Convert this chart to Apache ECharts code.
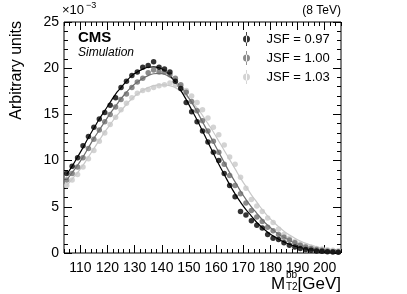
<!DOCTYPE html>
<html><head><meta charset="utf-8">
<script src="https://cdn.jsdelivr.net/npm/echarts@6/dist/echarts.min.js"></script>
<style>html,body{margin:0;padding:0;background:#fff}#c{width:407px;height:294px}</style>
</head><body><div id="c"></div>
<script>
const xValues = [105,107,109,111,113,115,117,119,121,123,125,127,129,131,133,135,137,139,141,143,145,147,149,151,153,155,157,159,161,163,165,167,169,171,173,175,177,179,181,183,185,187,189,191,193,195,197,199,201,203,205];
const jsf097 = [8.6,9.4,10.3,11.6,12.6,13.6,14.5,15.2,16.0,16.8,17.9,18.6,19.2,19.6,20.1,20.3,20.7,20.1,19.9,19.6,18.6,17.8,16.3,15.3,14.2,13.2,12.0,10.9,10.0,8.6,7.3,6.1,4.5,4.1,3.5,3.0,2.7,2.0,1.6,1.45,1.1,0.85,0.65,0.5,0.38,0.3,0.22,0.18,0.13,0.1,0.08];
const jsf100 = [7.9,8.6,9.3,10.3,11.3,12.3,13.3,14.2,15.0,15.8,16.6,17.2,17.9,18.5,18.9,19.5,19.8,19.6,19.6,19.3,18.9,18.2,17.4,16.4,15.4,14.3,13.2,12.1,10.9,9.6,8.4,7.3,6.4,5.4,4.6,3.9,3.4,2.8,2.4,2.0,1.7,1.4,1.1,0.85,0.65,0.5,0.38,0.3,0.22,0.17,0.13];
const jsf103 = [7.3,7.9,8.5,9.3,10.2,11.1,12.1,13.0,13.9,14.7,15.5,16.2,16.8,17.3,17.6,17.7,17.9,18.1,18.2,18.4,18.2,18.0,17.6,17.0,16.3,15.5,14.6,13.6,12.8,11.7,10.4,9.6,8.2,7.0,5.8,5.1,4.5,3.8,3.3,2.6,2.0,1.6,1.25,1.0,0.8,0.62,0.5,0.42,0.35,0.3,0.25];
const fit097 = [8.5,9.4,10.4,11.4,12.5,13.5,14.5,15.4,16.3,17.2,17.9,18.6,19.2,19.6,19.9,20.1,20.15,20.05,19.75,19.2,18.5,17.6,16.6,15.5,14.4,13.2,12.0,10.8,9.6,8.5,7.4,6.4,5.5,4.7,4.0,3.3,2.75,2.25,1.85,1.5,1.2,0.95,0.75,0.6,0.47,0.37,0.29,0.22,0.17,0.13,0.1];
const fit100 = [7.9,8.7,9.5,10.4,11.4,12.4,13.3,14.2,15.1,15.9,16.7,17.4,18.0,18.5,18.9,19.2,19.4,19.45,19.35,19.05,18.6,18.0,17.2,16.3,15.3,14.2,13.1,12.0,10.9,9.8,8.7,7.7,6.7,5.8,5.0,4.3,3.6,3.0,2.5,2.05,1.7,1.38,1.1,0.88,0.7,0.55,0.43,0.34,0.27,0.21,0.17];
const fit103 = [7.3,8.0,8.7,9.5,10.4,11.3,12.2,13.1,13.9,14.7,15.4,16.1,16.7,17.2,17.6,17.9,18.1,18.2,18.2,18.1,17.9,17.5,17.0,16.4,15.7,14.9,14.0,13.1,12.1,11.1,10.1,9.1,8.1,7.2,6.3,5.5,4.7,4.0,3.4,2.85,2.35,1.95,1.6,1.3,1.05,0.85,0.68,0.55,0.44,0.35,0.28];
const xMajorTicks = [110,120,130,140,150,160,170,180,190,200];
const xMinorTicks = [104,106,108,112,114,116,118,122,124,126,128,132,134,136,138,142,144,146,148,152,154,156,158,162,164,166,168,172,174,176,178,182,184,186,188,192,194,196,198,202,204,206];
const seriesNames = ['JSF = 0.97','JSF = 1.00','JSF = 1.03'];
const colors = ['#000000','#6e6e6e','#c8c8c8'];

const FONT = 'Liberation Sans, Arial, Helvetica, sans-serif';
const pairs = a => xValues.map((x,i)=>[x,a[i]]);
const chart = echarts.init(document.getElementById('c'));
const baseX = {type:'value', min:104, max:206, splitLine:{show:false}, axisLine:{show:false}};
const icon = 'path://M2,7a3,3 0 1,0 6,0a3,3 0 1,0 -6,0z M4.6,1h0.8v12h-0.8z';
chart.setOption({
  animation:false,
  grid:{left:64, right:66, top:22, bottom:41, show:true, borderColor:'#000', borderWidth:1, backgroundColor:'transparent'},
  xAxis:[
    Object.assign({}, baseX, {position:'bottom', axisTick:{inside:true, length:8, customValues:xMajorTicks, lineStyle:{color:'#000'}}, axisLabel:{customValues:xMajorTicks, fontFamily:FONT, fontSize:14, color:'#000', margin:8}}),
    Object.assign({}, baseX, {position:'bottom', axisTick:{inside:true, length:4, customValues:xMinorTicks, lineStyle:{color:'#000'}}, axisLabel:{show:false}}),
    Object.assign({}, baseX, {position:'top', axisTick:{inside:true, length:8, customValues:xMajorTicks, lineStyle:{color:'#000'}}, axisLabel:{show:false}}),
    Object.assign({}, baseX, {position:'top', axisTick:{inside:true, length:4, customValues:xMinorTicks, lineStyle:{color:'#000'}}, axisLabel:{show:false}})
  ],
  yAxis:[
    {type:'value', min:0, max:25, interval:5, position:'left', splitLine:{show:false}, axisLine:{show:false},
     axisTick:{inside:true, length:8, lineStyle:{color:'#000'}}, minorTick:{show:true, splitNumber:5, length:4, lineStyle:{color:'#000'}},
     axisLabel:{fontFamily:FONT, fontSize:14, color:'#000', margin:5}},
    {type:'value', min:0, max:25, interval:5, position:'right', splitLine:{show:false}, axisLine:{show:false},
     axisTick:{inside:true, length:8, lineStyle:{color:'#000'}}, minorTick:{show:true, splitNumber:5, length:4, lineStyle:{color:'#000'}},
     axisLabel:{show:false}}
  ],
  legend:{orient:'vertical', left:238, top:27, itemWidth:10, itemHeight:14, itemGap:5, icon:icon,
    data:seriesNames, textStyle:{fontFamily:FONT, fontSize:13, color:'#000', padding:[0,0,0,10]}},
  series:[
    {type:'line', name:'fit103', data:pairs(fit103), smooth:true, showSymbol:false, lineStyle:{color:colors[2], width:1.2}, z:2},
    {type:'line', name:'fit100', data:pairs(fit100), smooth:true, showSymbol:false, lineStyle:{color:colors[1], width:1.2}, z:2},
    {type:'line', name:'fit097', data:pairs(fit097), smooth:true, showSymbol:false, lineStyle:{color:colors[0], width:1.2}, z:2},
    {type:'scatter', name:seriesNames[2], data:pairs(jsf103), symbol:'circle', symbolSize:5.5, itemStyle:{color:colors[2]}, z:3},
    {type:'scatter', name:seriesNames[1], data:pairs(jsf100), symbol:'circle', symbolSize:5.5, itemStyle:{color:colors[1]}, z:4},
    {type:'scatter', name:seriesNames[0], data:pairs(jsf097), symbol:'circle', symbolSize:5.5, itemStyle:{color:colors[0]}, z:5}
  ],
  graphic:[
    {type:'text', left:62, top:4, style:{text:'×10', fontFamily:FONT, fontSize:13, fill:'#000'}},
    {type:'text', left:86, top:1, style:{text:'−3', fontFamily:FONT, fontSize:9, fill:'#000'}},
    {type:'text', right:66, top:5, style:{text:'(8 TeV)', fontFamily:FONT, fontSize:12, fill:'#000'}},
    {type:'text', left:78, top:30, style:{text:'CMS', fontFamily:FONT, fontSize:15, fontWeight:'bold', fill:'#000'}},
    {type:'text', left:78, top:47, style:{text:'Simulation', fontFamily:FONT, fontSize:12, fontStyle:'italic', fill:'#000'}},
    {type:'text', x:9, y:21, rotation:Math.PI/2, style:{text:'Arbitrary units', fontFamily:FONT, fontSize:16, fill:'#000', align:'right', verticalAlign:'top'}},
    {type:'text', left:271, top:276, style:{text:'M', fontFamily:FONT, fontSize:17, fill:'#000'}},
    {type:'text', left:286, top:270, style:{text:'bb', fontFamily:FONT, fontSize:10, fill:'#000'}},
    {type:'text', left:286, top:282, style:{text:'T2', fontFamily:FONT, fontSize:10, fill:'#000'}},
    {type:'text', right:66, top:276, style:{text:'[GeV]', fontFamily:FONT, fontSize:17, fill:'#000'}}
  ]
});
</script></body></html>
